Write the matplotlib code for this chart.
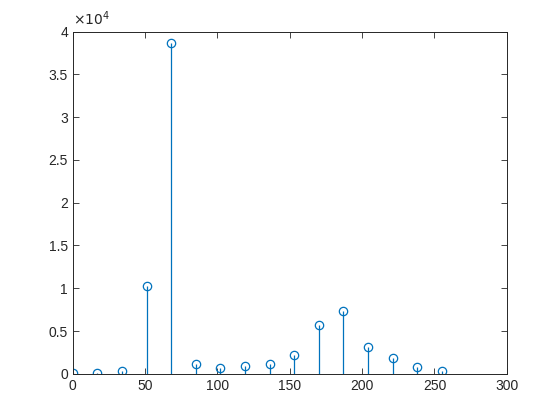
import matplotlib
matplotlib.use("Agg")
import matplotlib.pyplot as plt
from matplotlib.ticker import FuncFormatter

# bins (centres) and counts
bins = [0, 17, 34, 51, 68, 85, 102, 119, 136, 153, 170, 187, 204, 221, 238, 255]
counts = [100, 80, 300, 10250, 38700, 1150, 680, 920, 1150, 2200,
          5750, 7350, 3150, 1850, 800, 320]

plt.rcParams['font.family'] = ['Liberation Sans', 'DejaVu Sans']
grey = '#262626'
blue = '#0072BD'

fig = plt.figure(figsize=(5.6, 4.2), dpi=100)
ax = fig.add_axes([0.13, 0.11, 0.775, 0.815])

ml, sl, bl = ax.stem(bins, counts, basefmt=' ')
plt.setp(sl, color=blue, linewidth=0.9)
plt.setp(ml, color=blue, markerfacecolor='none', markersize=6, markeredgewidth=0.9)

ax.set_xlim(0, 300)
ax.set_ylim(0, 40000)
ax.set_xticks(range(0, 301, 50))
ax.set_yticks([i * 5000 for i in range(9)])
ax.yaxis.set_major_formatter(FuncFormatter(lambda v, p: '%g' % (v / 1e4)))
ax.tick_params(direction='in', top=True, right=True, length=4, width=0.6,
               colors=grey, labelsize=10)
for s in ax.spines.values():
    s.set_color(grey)
    s.set_linewidth(0.7)
# exponent label like matlab
ax.text(0.0, 1.01, r'$\times10^{4}$', transform=ax.transAxes, fontsize=10,
        color=grey, ha='left', va='bottom')

fig.savefig('out.png', dpi=100)
